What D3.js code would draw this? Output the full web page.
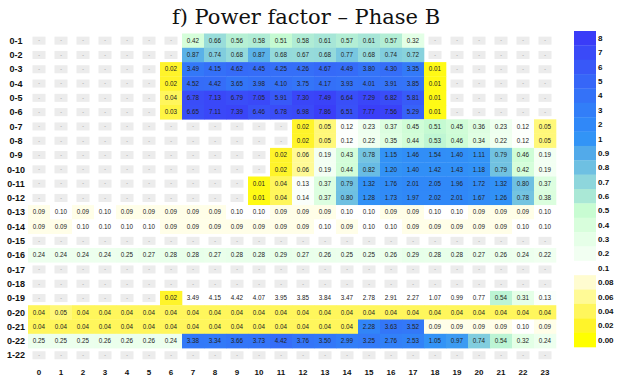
<!DOCTYPE html>
<html>
<head>
<meta charset="utf-8">
<script src="https://cdn.jsdelivr.net/npm/d3@7/dist/d3.min.js"></script>
<style>
  html, body { margin: 0; padding: 0; background: #fff; }
  svg { display: block; }
</style>
</head>
<body>
<svg id="chart" width="621" height="381"></svg>
<script>
// Hours of the day (columns) and day-interval rows
const hours = ["0","1","2","3","4","5","6","7","8","9","10","11","12","13","14","15","16","17","18","19","20","21","22","23"];
const rows = ["0-1","0-2","0-3","0-4","0-5","0-6","0-7","0-8","0-9","0-10","0-11","0-12","0-13","0-14","0-15","0-16","0-17","0-18","0-19","0-20","0-21","0-22","1-22"];

// Power factor per row, one value per hour (null = no reading)
const _ = null;
const r01 = [_,_,_,_,_,_,_,0.42,0.66,0.56,0.58,0.51,0.58,0.61,0.57,0.61,0.57,0.32,_,_,_,_,_,_];
const r02 = [_,_,_,_,_,_,_,0.87,0.74,0.68,0.87,0.68,0.67,0.68,0.77,0.68,0.74,0.72,_,_,_,_,_,_];
const r03 = [_,_,_,_,_,_,0.02,3.49,4.15,4.62,4.45,4.25,4.26,4.67,4.49,3.80,4.30,3.35,0.01,_,_,_,_,_];
const r04 = [_,_,_,_,_,_,0.02,4.52,4.42,3.65,3.98,4.10,3.75,4.17,3.93,4.01,3.91,3.85,0.01,_,_,_,_,_];
const r05 = [_,_,_,_,_,_,0.04,6.78,7.13,6.79,7.05,5.91,7.30,7.49,6.64,7.29,6.82,5.81,0.01,_,_,_,_,_];
const r06 = [_,_,_,_,_,_,0.03,6.65,7.11,7.39,6.46,6.78,6.98,7.86,6.51,7.77,7.56,5.29,0.01,_,_,_,_,_];
const r07 = [_,_,_,_,_,_,_,_,_,_,_,_,0.02,0.05,0.12,0.23,0.37,0.45,0.51,0.45,0.36,0.23,0.12,0.05];
const r08 = [_,_,_,_,_,_,_,_,_,_,_,_,0.02,0.05,0.12,0.22,0.35,0.44,0.53,0.46,0.34,0.22,0.12,0.05];
const r09 = [_,_,_,_,_,_,_,_,_,_,_,0.02,0.06,0.19,0.43,0.78,1.15,1.46,1.54,1.40,1.11,0.79,0.46,0.19];
const r10 = [_,_,_,_,_,_,_,_,_,_,_,0.02,0.06,0.19,0.44,0.82,1.20,1.40,1.42,1.43,1.18,0.79,0.42,0.19];
const r11 = [_,_,_,_,_,_,_,_,_,_,0.01,0.04,0.13,0.37,0.79,1.32,1.76,2.01,2.05,1.96,1.72,1.32,0.80,0.37];
const r12 = [_,_,_,_,_,_,_,_,_,_,0.01,0.04,0.14,0.37,0.80,1.28,1.73,1.97,2.02,2.01,1.67,1.26,0.78,0.38];
const r13 = [0.09,0.10,0.09,0.10,0.09,0.09,0.09,0.09,0.09,0.10,0.10,0.09,0.09,0.09,0.10,0.10,0.09,0.09,0.10,0.10,0.09,0.09,0.09,0.10];
const r14 = [0.09,0.09,0.10,0.10,0.10,0.10,0.09,0.09,0.09,0.09,0.09,0.09,0.09,0.10,0.09,0.10,0.10,0.09,0.09,0.09,0.09,0.09,0.10,0.10];
const r15 = [_,_,_,_,_,_,_,_,_,_,_,_,_,_,_,_,_,_,_,_,_,_,_,_];
const r16 = [0.24,0.24,0.24,0.24,0.25,0.27,0.28,0.28,0.27,0.28,0.28,0.29,0.27,0.26,0.25,0.25,0.26,0.29,0.28,0.28,0.27,0.26,0.24,0.22];
const r17 = [_,_,_,_,_,_,_,_,_,_,_,_,_,_,_,_,_,_,_,_,_,_,_,_];
const r18 = [_,_,_,_,_,_,_,_,_,_,_,_,_,_,_,_,_,_,_,_,_,_,_,_];
const r19 = [_,_,_,_,_,_,0.02,3.49,4.15,4.42,4.07,3.95,3.85,3.84,3.47,2.78,2.91,2.27,1.07,0.99,0.77,0.54,0.31,0.13];
const r20 = [0.04,0.05,0.04,0.04,0.04,0.04,0.04,0.04,0.04,0.04,0.04,0.04,0.04,0.04,0.04,0.04,0.04,0.04,0.04,0.04,0.04,0.04,0.04,0.04];
const r21 = [0.04,0.04,0.04,0.04,0.04,0.04,0.04,0.04,0.04,0.04,0.04,0.04,0.04,0.04,0.04,2.28,3.63,3.52,0.09,0.09,0.09,0.09,0.10,0.09];
const r22 = [0.25,0.25,0.25,0.26,0.26,0.26,0.24,3.38,3.34,3.66,3.73,4.42,3.76,3.50,2.99,3.25,2.76,2.53,1.05,0.97,0.74,0.54,0.32,0.24];
const r1_22 = [_,_,_,_,_,_,_,_,_,_,_,_,_,_,_,_,_,_,_,_,_,_,_,_];
const series = [r01,r02,r03,r04,r05,r06,r07,r08,r09,r10,r11,r12,r13,r14,r15,r16,r17,r18,r19,r20,r21,r22,r1_22];

// Cells printed without a colour fill (row, hour)
const unshadedRow = "0-19";
const unshadedHours = [7,8,9,10,11,12,13,14,15,16,17,18,19,20];

// Colour legend steps, top to bottom
const legendLabels = ["8","7","6","5","4","3","2","1","0.9","0.8","0.7","0.6","0.5","0.4","0.3","0.2","0.1","0.08","0.06","0.04","0.02","0.00"];
const legendStops  = [8,7,6,5,4,3,2,1,0.9,0.8,0.7,0.6,0.5,0.4,0.3,0.2,0.1,0.08,0.06,0.04,0.02,0];
const legendColors = ["#3a3cf8","#3a4af8","#3858f8","#3666f8","#3472f8","#327ef8","#3088f8","#3294f6","#52aaea","#6ec0e2","#8ed6dc","#aae8d6","#c8fcd2","#d8fedc","#e6ffe8","#f2fff2","#ffffff","#fffcd0","#fffa96","#fff65c","#fff42a","#ffff00"];

const svg = d3.select("#chart");
const W = 621, H = 381;

const x = d3.scaleBand().domain(hours).range([28, 556]).padding(0);
const y = d3.scaleBand().domain(rows).range([33.5, 362.4]).padding(0);

const color = d3.scaleLinear()
  .domain(legendStops.slice().reverse())
  .range(legendColors.slice().reverse())
  .clamp(true);

// Title
svg.append("text")
  .attr("x", 306).attr("y", 24)
  .attr("text-anchor", "middle")
  .attr("font-family", "'DejaVu Serif', serif")
  .attr("font-size", 21)
  .attr("fill", "#111")
  .text("f) Power factor \u2013 Phase B");

// Flatten into cells
const cells = [];
rows.forEach((r, i) => {
  series[i].forEach((v, j) => {
    cells.push({ row: r, hour: hours[j], h: j, value: v });
  });
});

const fmt = d3.format(".2f");
const g = svg.append("g");

// Filled cells
g.selectAll("rect.cell")
  .data(cells.filter(d => d.value !== null && !(d.row === unshadedRow && unshadedHours.includes(d.h))))
  .join("rect")
  .attr("class", "cell")
  .attr("x", d => x(d.hour))
  .attr("y", d => y(d.row))
  .attr("width", x.bandwidth() + 0.3)
  .attr("height", y.bandwidth() + 0.3)
  .attr("fill", d => color(d.value));

// Missing readings: small grey tag with a dash
const miss = cells.filter(d => d.value === null);
g.selectAll("rect.miss")
  .data(miss)
  .join("rect")
  .attr("class", "miss")
  .attr("x", d => x(d.hour) + x.bandwidth() / 2 - 6.5)
  .attr("y", d => y(d.row) + y.bandwidth() / 2 - 4)
  .attr("width", 13)
  .attr("height", 8)
  .attr("fill", "#ececec");
g.selectAll("text.miss")
  .data(miss)
  .join("text")
  .attr("class", "miss")
  .attr("x", d => x(d.hour) + x.bandwidth() / 2)
  .attr("y", d => y(d.row) + y.bandwidth() / 2)
  .attr("dy", "0.35em")
  .attr("text-anchor", "middle")
  .attr("font-family", "'Liberation Sans', Arial, sans-serif")
  .attr("font-size", 5)
  .attr("fill", "#888")
  .text("-");

// Value labels
g.selectAll("text.val")
  .data(cells.filter(d => d.value !== null))
  .join("text")
  .attr("class", "val")
  .attr("x", d => x(d.hour) + x.bandwidth() / 2)
  .attr("y", d => y(d.row) + y.bandwidth() / 2)
  .attr("dy", "0.35em")
  .attr("text-anchor", "middle")
  .attr("font-family", "'Liberation Sans', Arial, sans-serif")
  .attr("font-size", 6.3)
  .attr("fill", "#222")
  .text(d => fmt(d.value));

// Row labels
svg.append("g").selectAll("text")
  .data(rows)
  .join("text")
  .attr("x", 16)
  .attr("y", d => y(d) + y.bandwidth() / 2)
  .attr("dy", "0.35em")
  .attr("text-anchor", "middle")
  .attr("font-family", "'Liberation Sans', Arial, sans-serif")
  .attr("font-weight", "bold")
  .attr("font-size", 9)
  .attr("fill", "#111")
  .text(d => d);

// Hour labels
svg.append("g").selectAll("text")
  .data(hours)
  .join("text")
  .attr("x", d => x(d) + x.bandwidth() / 2)
  .attr("y", 372)
  .attr("dy", "0.35em")
  .attr("text-anchor", "middle")
  .attr("font-family", "'Liberation Sans', Arial, sans-serif")
  .attr("font-weight", "bold")
  .attr("font-size", 8)
  .attr("fill", "#111")
  .text(d => d);

// Legend
const ly = d3.scaleBand().domain(legendLabels).range([31, 347]).padding(0);
const lg = svg.append("g");
lg.selectAll("rect")
  .data(legendLabels)
  .join("rect")
  .attr("x", 574)
  .attr("y", d => ly(d))
  .attr("width", 22)
  .attr("height", ly.bandwidth() + 0.3)
  .attr("fill", (d, i) => legendColors[i]);
lg.selectAll("text")
  .data(legendLabels)
  .join("text")
  .attr("x", 598)
  .attr("y", d => ly(d) + ly.bandwidth() / 2)
  .attr("dy", "0.35em")
  .attr("font-family", "'Liberation Sans', Arial, sans-serif")
  .attr("font-weight", "bold")
  .attr("font-size", 8)
  .attr("fill", "#111")
  .text(d => d);
</script>
</body>
</html>
